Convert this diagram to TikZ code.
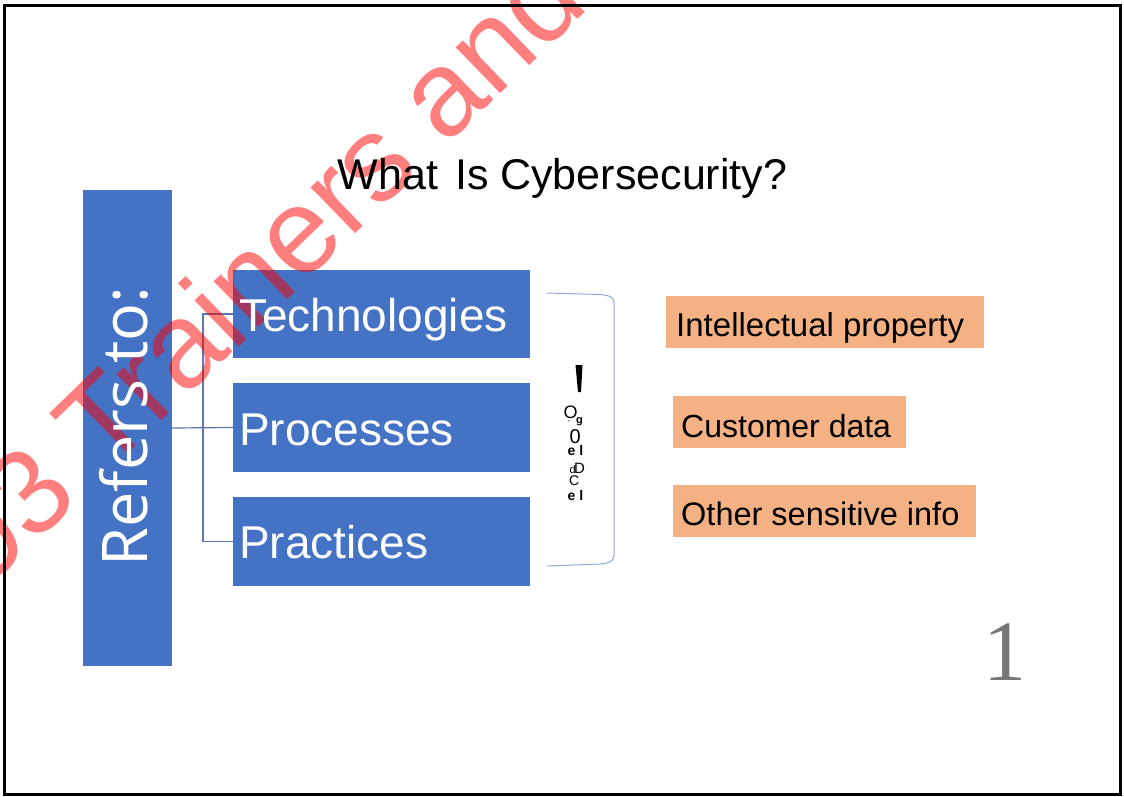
\documentclass[tikz,border=0pt]{standalone}
\usepackage{fontspec}
\setmainfont{Liberation Sans}
\newfontfamily\osans{Open Sans}
\newfontfamily\serifone{Liberation Serif}
\definecolor{boxblue}{HTML}{4472C4}
\definecolor{boxorange}{HTML}{F4B183}
\definecolor{connblue}{HTML}{5B78A8}
\definecolor{brackblue}{HTML}{8FAADC}
\definecolor{numgray}{HTML}{767676}
\newcommand{\fs}[1]{\fontsize{#1pt}{#1pt}\selectfont}
\begin{document}
\begin{tikzpicture}[x=1pt,y=-1pt,
  bluebox/.style={draw=none,fill=boxblue,inner sep=0pt,outer sep=0pt},
  orangebox/.style={draw=none,fill=boxorange,inner sep=0pt,outer sep=0pt},
  whitelbl/.style={text=white,inner sep=0pt,anchor=base west,font=\fs{46}},
  blacklbl/.style={text=black,inner sep=0pt,anchor=base west,font=\fs{33}},
  conn/.style={draw=connblue,line width=1.2pt},
  bracket/.style={draw=brackblue,line width=1pt},
  tiny/.style={text=black,inner sep=0pt,anchor=base west},
  watermark/.style={text=red,text opacity=0.5,inner sep=0pt,font=\fs{121}}]
\useasboundingbox (0,0) rectangle (1124,797);
\clip (0,0) rectangle (1124,797);
\fill[white] (0,0) rectangle (1124,797);

% boxes
\node[bluebox,minimum width=89pt,minimum height=476pt] (refers) at (127.5,428) {};
\node[bluebox,minimum width=297pt,minimum height=88pt] (tech) at (381.5,314) {};
\node[bluebox,minimum width=297pt,minimum height=89pt] (proc) at (381.5,427.5) {};
\node[bluebox,minimum width=297pt,minimum height=89pt] (prac) at (381.5,541.5) {};
\node[orangebox,minimum width=318pt,minimum height=52pt] (ip) at (825,322) {};
\node[orangebox,minimum width=233pt,minimum height=52pt] (cd) at (789.5,422) {};
\node[orangebox,minimum width=303pt,minimum height=52pt] (osi) at (824.5,511) {};

% connectors
\coordinate (bus) at (203,314);
\draw[conn] (refers.east) -- (proc.west);
\draw[conn] (tech.west) -- (bus) |- (prac.west);

% bracket
\draw[bracket] (547,293) -- (600,294.5) .. controls (610,295.5) and (614,297) .. (614,303)
  -- (614,555) .. controls (614,561) and (610,563) .. (600,564) -- (547,566);

% watermark
\node[watermark,rotate=44] (wm) at (258,268) {03 Trainers and};

% title
\node[inner sep=0pt,anchor=base,font=\fs{43}] (title) at (562.5,189) {What\hspace{5pt} Is Cybersecurity?};

% labels
\node[text=white,inner sep=0pt,rotate=90,font=\osans\fs{63}] (referslbl) at (124,426.5) {Refers to:};
\node[whitelbl] (techlbl) at (239,331) {Technologies};
\node[whitelbl] (proclbl) at (239,445) {Processes};
\node[whitelbl] (praclbl) at (239,558) {Practices};
\node[blacklbl] (iplbl) at (676,336) {Intellectual property};
\node[blacklbl,font=\fs{32}] (cdlbl) at (681,437) {Customer data};
\node[blacklbl,font=\fs{32.5}] (osilbl) at (681,525) {Other sensitive info};

% garbled glyphs inside bracket
\fill[black] (575.5,365) -- (582.5,365) -- (581,392) -- (578,392) -- cycle;
\node[tiny,font=\fs{18}] (g1) at (563.5,418) {O};
\node[tiny,font=\fs{8}] (g2) at (567.5,423) {-};
\node[tiny,font=\bfseries\fs{11}] (g3) at (576,423) {g};
\node[tiny,font=\fs{20}] (g4) at (569.5,443) {0};
\node[tiny,font=\bfseries\fs{14}] (g5) at (567.5,455) {e l};
\node[tiny,font=\fs{11}] (g6) at (569.5,473) {d};
\node[tiny,font=\fs{15}] (g7) at (574,473) {D};
\node[tiny,font=\fs{14}] (g8) at (569,485) {C};
\node[tiny,font=\bfseries\fs{14}] (g9) at (567.5,500) {e l};

% page number
\node[inner sep=0pt,anchor=base,text=numgray,font=\serifone\fs{86}] (num) at (1005,680) {1};

% frame
\draw[black,line width=2.2pt] (4.5,5.5) rectangle (1120.5,794.5);
\end{tikzpicture}
\end{document}
